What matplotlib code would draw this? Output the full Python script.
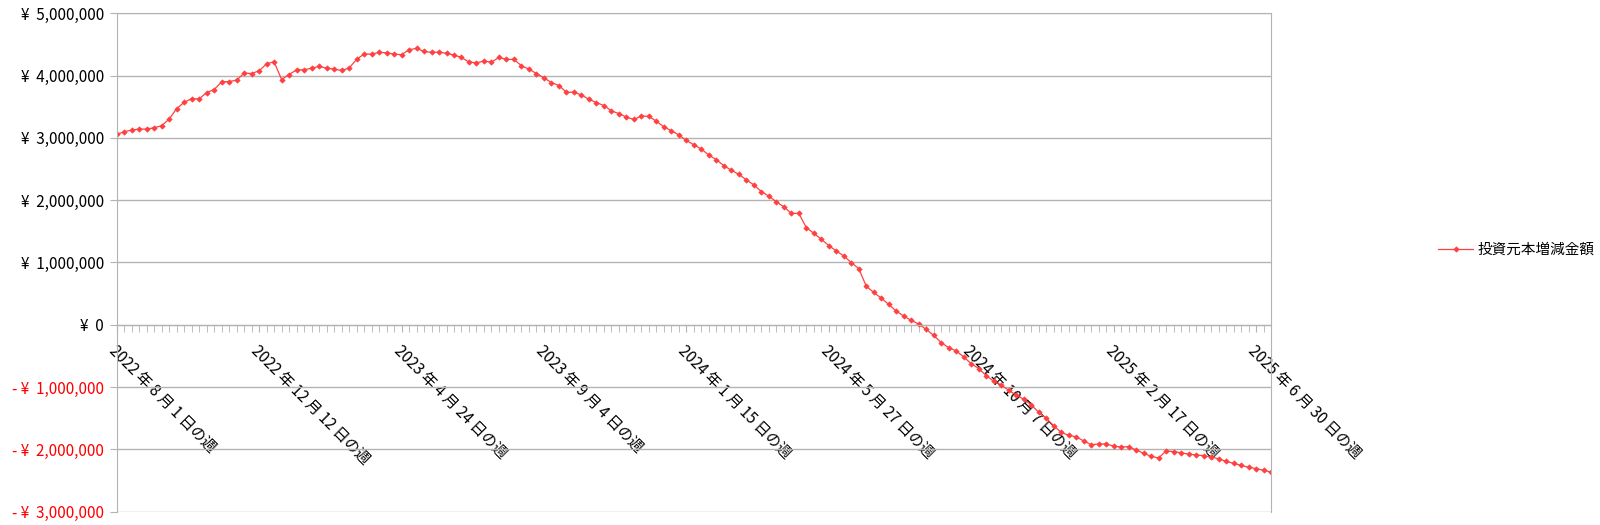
import numpy as np
import matplotlib
matplotlib.use("Agg")
import matplotlib.pyplot as plt
from matplotlib.ticker import FuncFormatter, MultipleLocator

plt.rcParams['font.family'] = ['Noto Sans CJK JP', 'DejaVu Sans']

# weekly values (yen), week of 2022-08-01 .. 2025-07-14
values = [
    3054000, 3097000, 3124000, 3140000, 3140000, 3161000, 3194000, 3301000, 3468000, 3570000,
    3629000, 3624000, 3726000, 3774000, 3898000, 3903000, 3925000, 4038000, 4032000, 4075000,
    4188000, 4220000, 3935000, 4016000, 4091000, 4091000, 4118000, 4145000, 4118000, 4102000,
    4081000, 4118000, 4258000, 4344000, 4344000, 4371000, 4365000, 4344000, 4333000, 4414000,
    4435000, 4387000, 4371000, 4376000, 4355000, 4328000, 4290000, 4215000, 4204000, 4231000,
    4215000, 4290000, 4258000, 4258000, 4156000, 4102000, 4032000, 3962000, 3887000, 3839000,
    3731000, 3731000, 3688000, 3618000, 3565000, 3518000, 3433000, 3388000, 3332000, 3294000,
    3348000, 3345000, 3265000, 3177000, 3113000, 3046000, 2957000, 2888000, 2819000, 2723000,
    2649000, 2553000, 2479000, 2415000, 2324000, 2245000, 2138000, 2064000, 1973000, 1894000,
    1787000, 1787000, 1559000, 1468000, 1372000, 1271000, 1184000, 1103000, 998000, 901000,
    619000, 517000, 427000, 325000, 219000, 139000, 69000, 11000, -75000, -171000,
    -288000, -368000, -421000, -517000, -624000, -704000, -816000, -907000, -971000, -1051000,
    -1131000, -1195000, -1285000, -1405000, -1500000, -1620000, -1730000, -1775000, -1800000, -1865000,
    -1925000, -1917000, -1912000, -1950000, -1963000, -1957000, -2010000, -2064000, -2112000, -2139000,
    -2027000, -2037000, -2056000, -2078000, -2091000, -2101000, -2123000, -2152000, -2192000, -2226000,
    -2259000, -2288000, -2310000, -2337000, -2364000,
]

tick_labels = [
    "2022 年 8 月 1 日の週",
    "2022 年 12 月 12 日の週",
    "2023 年 4 月 24 日の週",
    "2023 年 9 月 4 日の週",
    "2024 年 1 月 15 日の週",
    "2024 年 5 月 27 日の週",
    "2024 年 10 月 7 日の週",
    "2025 年 2 月 17 日の週",
    "2025 年 6 月 30 日の週",
]
label_step = 19
series_name = "投資元本増減金額"

red = '#ff4040'
grid_gray = '#b3b3b3'

fig = plt.figure(figsize=(16, 5.25), dpi=100)
ax = fig.add_axes([116.7/1600, 1 - 511.6/525, (1271 - 116.7)/1600, (511.6 - 13.2)/525])

x = np.arange(len(values))
ax.plot(x, values, color=red, lw=0.9, marker='D', markersize=2.8, markeredgewidth=0.4,
        label=series_name)

ax.set_xlim(0, len(values) - 1)
ax.set_ylim(-3000000, 5000000)

ax.yaxis.set_major_locator(MultipleLocator(1000000))
ax.grid(axis='y', color=grid_gray, lw=1)
ax.set_axisbelow(True)


def yen(v, pos):
    if v < 0:
        return "- ¥  {:,.0f}".format(-v)
    return "¥  {:,.0f}".format(v)


ax.yaxis.set_major_formatter(FuncFormatter(yen))
ax.tick_params(axis='y', length=5, color=grid_gray, labelsize=11, pad=4)
for t in ax.get_yticklabels():
    if t.get_text().startswith('-'):
        t.set_color('#ff0000')
    else:
        t.set_color('black')

for s in ['left', 'right', 'top', 'bottom']:
    ax.spines[s].set_color(grid_gray)
ax.spines['bottom'].set_position(('data', 0))

ax.set_xticks(x[::label_step])
ax.set_xticklabels(tick_labels)
ax.set_xticks(x, minor=True)
ax.tick_params(axis='x', which='both', direction='out', length=5, color=grid_gray)
ax.tick_params(axis='x', which='major', labelsize=11, pad=8)
for t in ax.get_xticklabels():
    t.set_rotation(-45)
    t.set_rotation_mode('anchor')
    t.set_ha('left')
    t.set_va('top')

fig.legend(loc='center left', bbox_to_anchor=(1438/1600, 1 - 250/525), frameon=False,
           fontsize=10.5, handlelength=2.4, handletextpad=0.3, borderpad=0, borderaxespad=0)

fig.savefig('out.png', dpi=100)
